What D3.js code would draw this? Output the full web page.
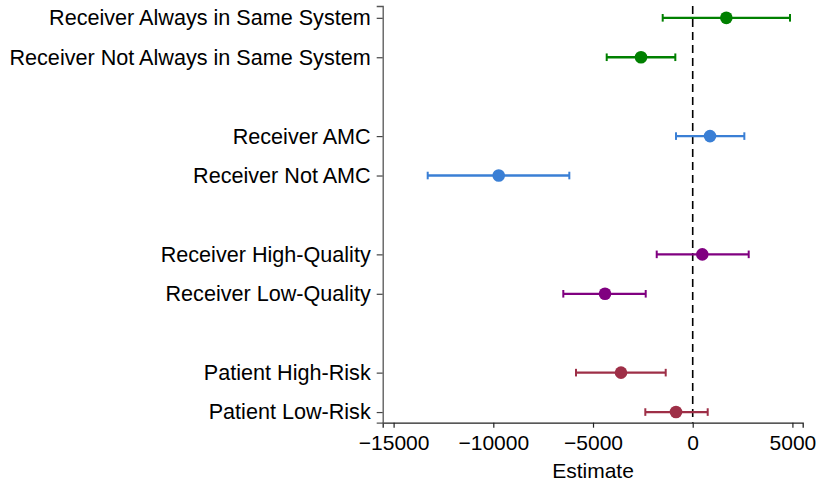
<!DOCTYPE html>
<html><head><meta charset="utf-8">
<script src="https://cdn.jsdelivr.net/npm/d3@7"></script>
<style>body{margin:0;background:#fff}svg{display:block}</style>
</head><body>
<svg id="chart" width="817" height="485"></svg>
<script>
const labels = ["Receiver Always in Same System","Receiver Not Always in Same System","Receiver AMC","Receiver Not AMC","Receiver High-Quality","Receiver Low-Quality","Patient High-Risk","Patient Low-Risk"];
const positions = [0,1,3,4,6,7,9,10];
const estimates = [1686,-2593,868,-9729,481,-4398,-3596,-838];
const lower = [-1505,-4313,-838,-13290,-1805,-6490,-5852,-2377];
const upper = [4880,-872,2589,-6188,2808,-2357,-1354,752];
const colors = ["#008000","#008000","#3a7fd5","#3a7fd5","#800080","#800080","#9e2f47","#9e2f47"];
const xTicks = [-15000,-10000,-5000,0,5000];

const svg = d3.select("#chart");
const font = "'Liberation Sans', Arial, Helvetica, sans-serif";
const x = d3.scaleLinear().domain([-15547,5516]).range([382.7,802.7]);
const y = d3.scaleLinear().domain([-0.3,10.27]).range([6,422.7]);

// zero line
svg.append("line").attr("x1",x(0)).attr("x2",x(0)).attr("y1",6).attr("y2",422.7)
  .attr("stroke","#000").attr("stroke-width",1.6).attr("stroke-dasharray","8,5");

// x axis
const xa = svg.append("g").attr("transform","translate(0,422.7)")
  .call(d3.axisBottom(x).tickValues(xTicks).tickFormat(d3.format("d")).tickSizeOuter(0).tickSize(5).tickPadding(7));
xa.select(".domain").attr("stroke","#222").attr("stroke-width",1.3);
xa.selectAll(".tick line").attr("stroke","#222").attr("stroke-width",1.2);
xa.selectAll("text").attr("font-family",font).attr("font-size",21).attr("fill","#000");

// y axis
const ya = svg.append("g").attr("transform","translate(382.7,0)")
  .call(d3.axisLeft(y).tickValues(positions).tickFormat((d,i)=>labels[i]).tickSizeOuter(0).tickSize(6).tickPadding(6));
ya.select(".domain").attr("stroke","#555").attr("stroke-width",1.3);
ya.selectAll(".tick line").attr("stroke","#444").attr("stroke-width",1.2);
ya.selectAll("text").attr("font-family",font).attr("font-size",21.6).attr("fill","#000");

// x title
svg.append("text").attr("x",x(-5000)).attr("y",478).attr("text-anchor","middle")
  .attr("font-family",font).attr("font-size",21).text("Estimate");

// error bars
const g = svg.append("g");
positions.forEach((p,i)=>{
  const yy = y(p);
  g.append("line").attr("x1",x(lower[i])).attr("x2",x(upper[i])).attr("y1",yy).attr("y2",yy)
    .attr("stroke",colors[i]).attr("stroke-width",2.3);
  [lower[i],upper[i]].forEach(v=>{
    g.append("line").attr("x1",x(v)).attr("x2",x(v)).attr("y1",yy-3.8).attr("y2",yy+3.8)
      .attr("stroke",colors[i]).attr("stroke-width",2);
  });
  g.append("circle").attr("cx",x(estimates[i])).attr("cy",yy).attr("r",6.3).attr("fill",colors[i]);
});
</script>
</body></html>
